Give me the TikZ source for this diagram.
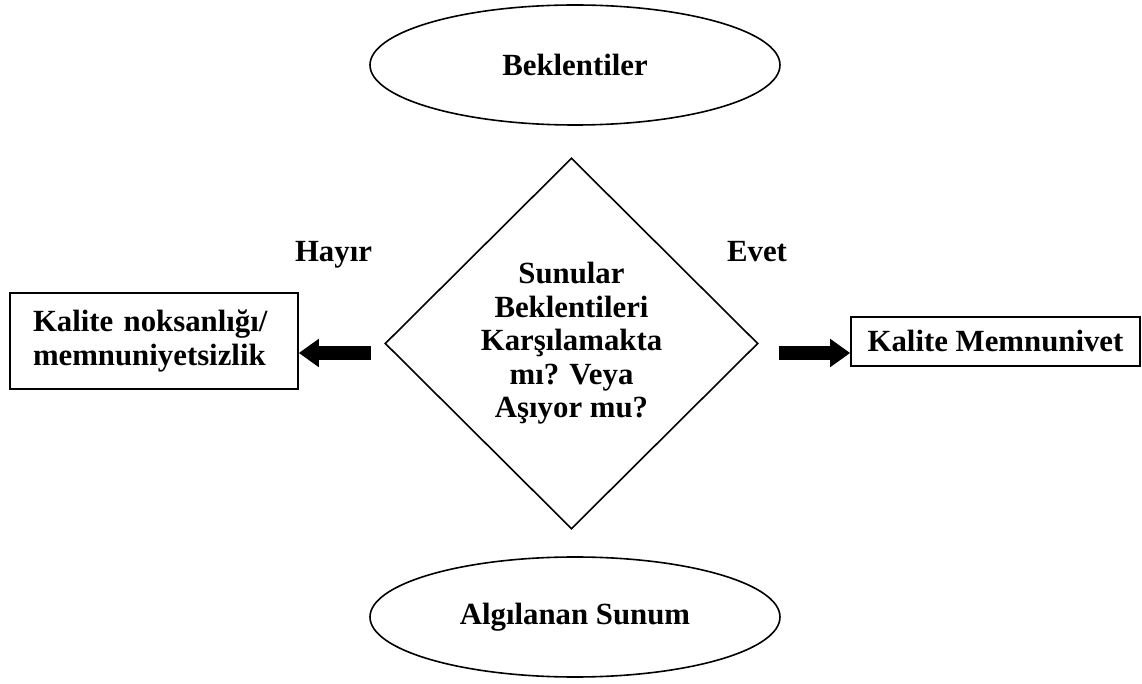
\documentclass[tikz,border=0pt]{standalone}
\usepackage{fontspec}
\setmainfont{Liberation Serif}
\usetikzlibrary{shapes.geometric,arrows.meta}

\begin{document}
\begin{tikzpicture}[x=0.5pt, y=-0.5pt,
                    every node/.style={font=\fontsize{15.4}{16.75}\selectfont\bfseries, line width=0.8pt},
                    oval/.style={draw, ellipse, minimum width=205pt, minimum height=60pt, inner sep=0pt},
                    decision/.style={draw, diamond, minimum width=186.5pt, minimum height=185.5pt, inner sep=0pt, align=center},
                    result/.style={draw, rectangle, inner sep=0pt},
                    fatarrow/.style={line width=7pt, -{Triangle[length=10pt, width=13.5pt]}}]
  \useasboundingbox (0,0) rectangle (1142,684);
  \node[oval] (expect) at (575,65) {Beklentiler};
  \node[decision] (check) at (571.5,343.5) {Sunular\\Beklentileri\\Karşılamakta\\mı? Veya\\Aşıyor mu?};
  \node[oval] (perceived) at (575,617) {Algılanan Sunum};
  \node[result, minimum height=48pt, text width=121pt, inner xsep=11.5pt, align=left] (gap) at (154,341) {Kalite noksanlığı/\\memnuniyetsizlik};
  \node[result, minimum width=144.5pt, minimum height=24.5pt] (satisfied) at (995.5,341.5) {Kalite Memnunivet};
  \node[anchor=base] (no) at (333.5,262) {Hayır};
  \node[anchor=base] (yes) at (757,262) {Evet};
  \draw[fatarrow] ([xshift=-6.5pt, yshift=-4.75pt]check.west) -- ([yshift=-4.75pt]check.west -| gap.east);
  \draw[fatarrow] ([xshift=10pt, yshift=-4.75pt]check.east) -- ([yshift=-4.75pt]check.east -| satisfied.west);
\end{tikzpicture}
\end{document}
